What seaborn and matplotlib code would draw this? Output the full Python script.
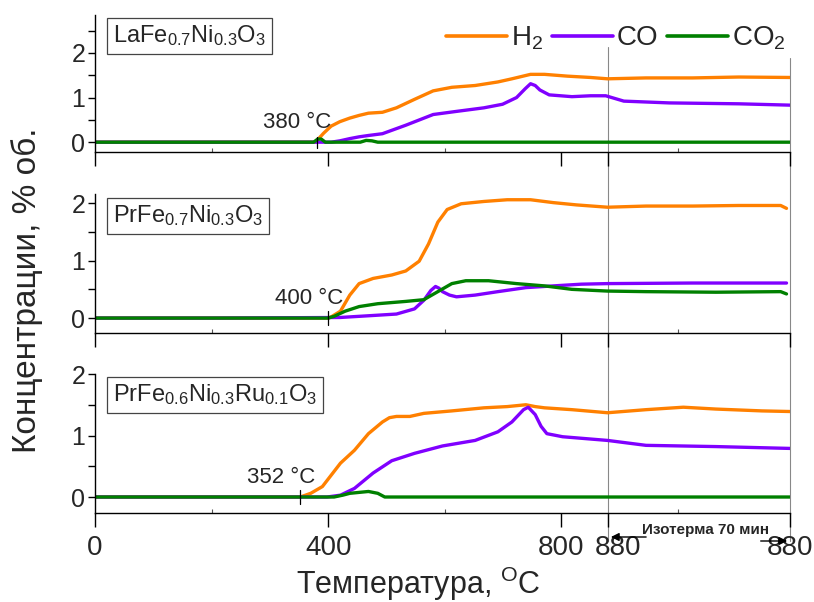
import matplotlib
matplotlib.use("Agg")
import matplotlib.pyplot as plt
import matplotlib.transforms as mtrans
from matplotlib.lines import Line2D
import pandas as pd
import seaborn as sns

# ---------------------------------------------------------------- data
gases = ["H2", "CO", "CO2"]
gas_labels = [r"H$_2$", "CO", r"CO$_2$"]
gas_colors = ["#FF8000", "#8000FF", "#008000"]

samples = [r"LaFe$_{0.7}$Ni$_{0.3}$O$_3$",
           r"PrFe$_{0.7}$Ni$_{0.3}$O$_3$",
           r"PrFe$_{0.6}$Ni$_{0.3}$Ru$_{0.1}$O$_3$"]
onsets = [380, 400, 352]
onset_labels = ["380 °C", "400 °C", "352 °C"]

# x axis: heating 0..880 °C, then the 70 min isotherm (880 .. 1192 on the axis)
x_ticks = [0, 400, 800, 880, 1192]
x_ticklabels = ["0", "400", "800", "880", "880"]
x_minor = [200, 600, 1000]
iso_start, iso_end = 880, 1192

# LaFe0.7Ni0.3O3
la_h2_t = [0, 200, 378, 392, 405, 420, 437, 453, 469, 493, 517, 548, 580, 612, 652,
           691, 715, 747, 771, 810, 850, 879, 945, 1025, 1104, 1192]
la_h2 = [0, 0, 0, 0.20, 0.36, 0.46, 0.54, 0.60, 0.65, 0.67, 0.77, 0.96, 1.15, 1.23, 1.27,
         1.35, 1.42, 1.52, 1.52, 1.48, 1.45, 1.42, 1.44, 1.44, 1.46, 1.45]
la_co_t = [0, 200, 405, 420, 437, 453, 469, 493, 533, 580, 620, 667, 699, 723, 738,
           747, 755, 763, 779, 818, 850, 876, 907, 985, 1104, 1192]
la_co = [0, 0, 0, 0.03, 0.08, 0.12, 0.15, 0.19, 0.38, 0.62, 0.69, 0.77, 0.85, 1.00, 1.20,
         1.31, 1.27, 1.17, 1.06, 1.02, 1.04, 1.04, 0.92, 0.88, 0.86, 0.83]
la_co2_t = [0, 375, 382, 388, 395, 455, 465, 475, 485, 1192]
la_co2 = [0, 0, 0.07, 0.07, 0, 0, 0.04, 0.03, 0, 0]

# PrFe0.7Ni0.3O3
pr_h2_t = [0, 200, 400, 405, 421, 437, 453, 477, 509, 533, 556, 572, 588, 604, 628,
           667, 707, 747, 786, 826, 879, 945, 1025, 1104, 1176, 1186]
pr_h2 = [0, 0, 0, 0.02, 0.12, 0.40, 0.60, 0.69, 0.75, 0.82, 0.99, 1.29, 1.67, 1.89, 1.99,
         2.03, 2.06, 2.06, 2.01, 1.97, 1.93, 1.95, 1.95, 1.96, 1.96, 1.91]
pr_co_t = [0, 200, 420, 469, 517, 548, 564, 576, 584, 590, 596, 608, 620, 652, 691,
           739, 786, 834, 879, 1025, 1186]
pr_co = [0, 0, 0.01, 0.04, 0.07, 0.16, 0.31, 0.48, 0.55, 0.52, 0.46, 0.40, 0.37, 0.40, 0.46,
         0.53, 0.56, 0.59, 0.60, 0.61, 0.61]
pr_co2_t = [0, 200, 400, 410, 429, 453, 485, 533, 564, 588, 612, 636, 675, 723, 771,
            818, 879, 945, 1065, 1176, 1186]
pr_co2 = [0, 0, 0, 0.03, 0.12, 0.20, 0.25, 0.29, 0.32, 0.46, 0.60, 0.65, 0.65, 0.60, 0.56,
          0.50, 0.47, 0.46, 0.45, 0.46, 0.42]

# PrFe0.6Ni0.3Ru0.1O3
ru_h2_t = [0, 200, 352, 370, 390, 421, 445, 469, 493, 505, 517, 540, 564, 612, 667,
           707, 739, 755, 771, 818, 879, 945, 1009, 1065, 1144, 1192]
ru_h2 = [0, 0, 0, 0.06, 0.17, 0.55, 0.76, 1.03, 1.22, 1.29, 1.31, 1.31, 1.36, 1.40, 1.45,
         1.47, 1.50, 1.47, 1.45, 1.42, 1.37, 1.42, 1.46, 1.43, 1.40, 1.39]
ru_co_t = [0, 200, 398, 421, 445, 477, 509, 548, 596, 652, 691, 715, 735, 743, 755,
           765, 775, 802, 879, 945, 1065, 1192]
ru_co = [0, 0, 0, 0.03, 0.14, 0.39, 0.59, 0.71, 0.83, 0.92, 1.06, 1.22, 1.42, 1.46, 1.34,
         1.15, 1.03, 0.98, 0.92, 0.84, 0.82, 0.79]
ru_co2_t = [0, 200, 410, 425, 437, 469, 485, 497, 1192]
ru_co2 = [0, 0, 0, 0.03, 0.06, 0.09, 0.06, 0, 0]

panel_series = [
    [(la_h2_t, la_h2), (la_co_t, la_co), (la_co2_t, la_co2)],
    [(pr_h2_t, pr_h2), (pr_co_t, pr_co), (pr_co2_t, pr_co2)],
    [(ru_h2_t, ru_h2), (ru_co_t, ru_co), (ru_co2_t, ru_co2)],
]
y_limits = [(-0.22, 2.85), (-0.26, 2.16), (-0.26, 2.0)]

# ---------------------------------------------------------------- style
sns.set_theme(style="ticks")
plt.rcParams["font.family"] = ["Liberation Sans", "DejaVu Sans"]
plt.rcParams["mathtext.fontset"] = "custom"
plt.rcParams["mathtext.rm"] = "Liberation Sans"
plt.rcParams["mathtext.it"] = "Liberation Sans"
plt.rcParams["mathtext.bf"] = "Liberation Sans"
plt.rcParams["mathtext.default"] = "rm"

W, H = 814, 602
fig = plt.figure(figsize=(W / 100, H / 100), dpi=100)


def axes_px(left, top, right, bottom):
    return fig.add_axes([left / W, 1 - bottom / H, (right - left) / W, (bottom - top) / H])


axes = [axes_px(95, 15, 790, 152), axes_px(95, 194, 790, 333), axes_px(95, 374, 790, 513)]
palette = dict(zip(gases, gas_colors))

for i, ax in enumerate(axes):
    frames = [pd.DataFrame({"T": t, "c": c, "gas": g})
              for g, (t, c) in zip(gases, panel_series[i])]
    df = pd.concat(frames, ignore_index=True)
    sns.lineplot(data=df, x="T", y="c", hue="gas", hue_order=gases, palette=palette,
                 estimator=None, sort=False, linewidth=2.4, legend=False, ax=ax)
    ax.set_xlim(0, iso_end)
    ax.set_ylim(*y_limits[i])
    ax.set_xlabel("")
    ax.set_ylabel("")
    ax.patch.set_alpha(0)
    for side in ("top", "right"):
        ax.spines[side].set_visible(False)
    for side in ("left", "bottom"):
        ax.spines[side].set_linewidth(1.0)
        ax.spines[side].set_color("black")

    ax.set_xticks(x_ticks)
    ax.set_xticks(x_minor, minor=True)
    ax.tick_params(axis="x", which="major", direction="out", length=10, width=1.0,
                   color="black", labelsize=20, pad=6)
    ax.tick_params(axis="x", which="minor", direction="in", length=3, width=0.8,
                   color="#555555")
    ax.set_yticks([0, 1, 2])
    ax.set_yticks([0.5, 1.5, 2.5][: 3 if y_limits[i][1] > 2.5 else 2], minor=True)
    ax.tick_params(axis="y", which="both", direction="out", length=5, width=1.0,
                   color="black", pad=2, labelsize=18)
    if i < 2:
        ax.set_xticklabels([])
    else:
        ax.set_xticklabels(x_ticklabels)

    # onset temperature marker
    on = onsets[i]
    ax.plot([on, on], [-0.12, 0.12], color="black", lw=0.9, zorder=6)
    ax.annotate(onset_labels[i], xy=(on, 0), xytext=(15, 14), textcoords="offset pixels",
                ha="right", va="baseline", fontsize=16)

# framed sample names
name_centres = [36, 216, 395]
for name, yc in zip(samples, name_centres):
    fig.text(113 / W, 1 - yc / H, name, fontsize=17, ha="left", va="center", zorder=5,
             bbox=dict(boxstyle="square,pad=0.25", fc="white", ec="#444444", lw=0.9))

# the isotherm boundaries run through all three panels
blend = mtrans.blended_transform_factory(axes[2].transData, fig.transFigure)
fig.add_artist(Line2D([iso_start, iso_start], [1 - 47 / H, 1 - 541 / H], transform=blend,
                      color="#888888", lw=0.8, zorder=0))
fig.add_artist(Line2D([iso_end, iso_end], [1 - 58 / H, 1 - 541 / H], transform=blend,
                      color="#888888", lw=0.8, zorder=0))
arrow_kw = dict(arrowstyle="-|>", color="black", lw=1.0, mutation_scale=12)
axes[2].annotate("", xy=(iso_start, 1 - 537 / H), xytext=(iso_start + 70, 1 - 537 / H),
                 xycoords=blend, textcoords=blend, arrowprops=arrow_kw)
axes[2].annotate("", xy=(iso_end, 1 - 541 / H), xytext=(iso_end - 55, 1 - 541 / H),
                 xycoords=blend, textcoords=blend, arrowprops=arrow_kw)
axes[2].text(1048, 1 - 530 / H, "Изотерма 70 мин", transform=blend, ha="center",
             va="center", fontsize=11, fontweight="bold")

# second "880" label sits a little to the right of its tick
lbl = axes[2].get_xticklabels()[3]
lbl.set_transform(lbl.get_transform() + mtrans.ScaledTranslation(10 / 100, 0, fig.dpi_scale_trans))

# legend
handles = [Line2D([], [], color=c, lw=2.6) for c in gas_colors]
fig.legend(handles, gas_labels, loc="center right", bbox_to_anchor=(786 / W, 1 - 38 / H),
           ncol=3, frameon=False, fontsize=20, handlelength=2.2, handletextpad=0.15,
           columnspacing=0.3, borderpad=0, borderaxespad=0)

fig.text(27 / W, 1 - 290 / H, "Концентрации, % об.", rotation=90, ha="center",
         va="center", fontsize=24)
fig.text(418 / W, 1 - 584 / H, r"Температура, $^{\mathrm{O}}$C", ha="center",
         va="center", fontsize=22)

fig.savefig("out.png", dpi=100)
